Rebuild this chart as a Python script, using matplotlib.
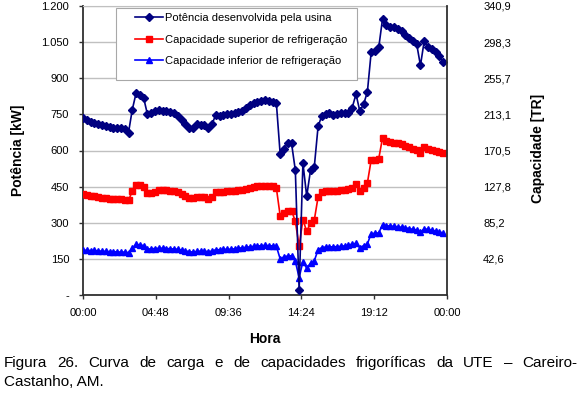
import numpy as np
import matplotlib
matplotlib.use("Agg")
import matplotlib.pyplot as plt
from matplotlib.patches import Rectangle


plt.rcParams["font.family"] = ["Liberation Sans", "DejaVu Sans"]

# 15-minute readings over one day, hours since 00:00
HOURS = np.arange(96) * 0.25

POWER_KW = [
    735, 725, 719, 714, 710, 704, 700, 696, 694, 692,
    692, 690, 674, 770, 838, 832, 818, 750, 757, 762,
    768, 766, 764, 761, 757, 743, 727, 708, 692, 695,
    708, 706, 704, 692, 708, 748, 743, 746, 750, 752,
    755, 760, 766, 776, 788, 798, 802, 807, 808, 806,
    800, 796, 585, 607, 630, 630, 518, 20, 548, 410,
    518, 532, 700, 745, 752, 755, 748, 752, 757, 757,
    757, 778, 834, 764, 792, 843, 1008, 1012, 1028, 1147,
    1122, 1114, 1112, 1104, 1098, 1080, 1068, 1056, 1042, 953,
    1056, 1030, 1021, 1007, 993, 966,
]

CAP_UPPER = [
    420, 416, 412, 409, 406, 404, 402, 400, 399, 398,
    397, 396, 393, 431, 458, 456, 450, 422, 424, 428,
    434, 435, 434, 431, 430, 426, 418, 410, 403, 402,
    406, 406, 405, 399, 405, 426, 426, 428, 430, 431,
    432, 435, 438, 440, 446, 449, 451, 454, 454, 453,
    451, 444, 329, 340, 350, 350, 306, 203, 313, 264,
    299, 311, 407, 428, 431, 431, 432, 432, 434, 436,
    440, 446, 462, 431, 445, 465, 560, 562, 566, 653,
    640, 636, 633, 630, 626, 620, 614, 608, 602, 590,
    615, 606, 602, 597, 593, 588,
]

CAP_LOWER = [
    185, 186, 184, 185, 183, 182, 181, 180, 180, 179,
    178, 178, 176, 195, 210, 208, 205, 190, 192, 193,
    194, 194, 193, 192, 191, 190, 186, 183, 180, 178,
    181, 182, 182, 180, 182, 188, 188, 189, 190, 190,
    192, 194, 196, 198, 200, 202, 203, 205, 206, 205,
    204, 202, 150, 158, 162, 163, 140, 72, 139, 111,
    132, 142, 188, 197, 199, 200, 200, 201, 202, 204,
    206, 212, 214, 196, 205, 212, 255, 256, 258, 292,
    288, 286, 285, 283, 281, 279, 276, 272, 270, 260,
    275, 272, 268, 265, 262, 257,
]

SERIES_LABELS = [
    "Potência desenvolvida pela usina",
    "Capacidade superior de refrigeração",
    "Capacidade inferior de refrigeração",
]

X_TICKS = [0, 4.8, 9.6, 14.4, 19.2, 24]
X_TICK_LABELS = ["00:00", "04:48", "09:36", "14:24", "19:12", "00:00"]

Y_TICKS = [0, 150, 300, 450, 600, 750, 900, 1050, 1200]
Y_TICK_LABELS = ["-", "150", "300", "450", "600", "750", "900", "1.050", "1.200"]

TR_MAX = 340.9
TR_TICKS = [42.6, 85.2, 127.8, 170.5, 213.1, 255.7, 298.3, 340.9]

CAPTION_LINE1 = "Figura 26. Curva de carga e de capacidades frigoríficas da UTE – Careiro-"
CAPTION_LINE2 = "Castanho, AM."

W, H = 580, 396
AXIS_COLOR = "#303030"
GRID_COLOR = "#C0C0C0"


def fx(px):
    return px / W


def fy(py):
    return 1 - py / H


def justified_text(fig, text, x0, x1, y, **kwargs):
    # spread the words so the line fills x0..x1 (pixels)
    words = text.split()
    renderer = fig.canvas.get_renderer()
    arts = [fig.text(0, fy(y), w, **kwargs) for w in words]
    widths = [a.get_window_extent(renderer).width for a in arts]
    gap = ((x1 - x0) - sum(widths)) / (len(words) - 1)
    x = x0
    for a, w in zip(arts, widths):
        a.set_x(fx(x))
        x += w + gap


def main():
    fig = plt.figure(figsize=(W / 100, H / 100), dpi=100)
    ax = fig.add_axes([fx(83), fy(295), fx(447) - fx(83), fy(6) - fy(295)])

    l1, = ax.plot(HOURS, POWER_KW, color="#000080", lw=1.2,
                  marker="D", markersize=4.2, zorder=4)
    l2, = ax.plot(HOURS, CAP_UPPER, color="#FF0000", lw=1.2,
                  marker="s", markersize=4.5, zorder=3)
    l3, = ax.plot(HOURS, CAP_LOWER, color="#0000FF", lw=1.2,
                  marker="^", markersize=5, zorder=3)

    ax.set_xlim(0, 24)
    ax.set_ylim(0, 1200)
    ax.set_xticks(X_TICKS)
    ax.set_xticklabels(X_TICK_LABELS)
    ax.set_yticks(Y_TICKS)
    ax.set_yticklabels(Y_TICK_LABELS)
    ax.tick_params(axis="y", direction="out", length=3, width=1,
                   color=AXIS_COLOR, pad=7, labelsize=8)
    ax.tick_params(axis="x", direction="out", length=3, width=1,
                   color=AXIS_COLOR, pad=6.5, labelsize=8)

    ax.yaxis.grid(True, color=GRID_COLOR, lw=1)
    ax.set_axisbelow(True)

    ax.spines["top"].set_color(GRID_COLOR)
    ax.spines["right"].set_visible(False)
    for side in ["left", "bottom"]:
        ax.spines[side].set_color(AXIS_COLOR)
        ax.spines[side].set_linewidth(1.3)

    ax2 = ax.twinx()
    ax2.set_ylim(0, TR_MAX)
    ax2.set_yticks(TR_TICKS)
    ax2.set_yticklabels([f"{v:.1f}".replace(".", ",") for v in TR_TICKS])
    ax2.tick_params(axis="y", length=0, pad=26, labelsize=8)
    for side in ["top", "left", "bottom"]:
        ax2.spines[side].set_visible(False)
    ax2.spines["right"].set_color(AXIS_COLOR)
    ax2.spines["right"].set_linewidth(1.3)

    # legend box
    ax.add_patch(Rectangle((fx(116), fy(80)), fx(357) - fx(116), fy(8) - fy(80),
                           transform=fig.transFigure, facecolor="white",
                           edgecolor="#A8A8A8", lw=0.8, zorder=5, clip_on=False))
    ax.legend([l1, l2, l3], SERIES_LABELS, loc="upper left",
              bbox_to_anchor=(fx(135), fy(13)), bbox_transform=fig.transFigure,
              frameon=False, borderpad=0, borderaxespad=0, fontsize=8,
              handlelength=2.5, handletextpad=0.2, labelspacing=1.05,
              numpoints=1).set_zorder(6)

    fig.text(fx(18), fy(150), "Potência [kW]", rotation=90, ha="center",
             va="center", fontsize=10, fontweight="bold")
    fig.text(fx(538), fy(148), "Capacidade [TR]", rotation=90, ha="center",
             va="center", fontsize=10, fontweight="bold")
    fig.text(fx(265), fy(339), "Hora", ha="center", va="center",
             fontsize=10, fontweight="bold")

    justified_text(fig, CAPTION_LINE1, 4, 577, 367, fontsize=11, va="baseline")
    fig.text(fx(4), fy(386), CAPTION_LINE2, fontsize=11, va="baseline")

    fig.savefig("out.png", dpi=100)


if __name__ == "__main__":
    main()
